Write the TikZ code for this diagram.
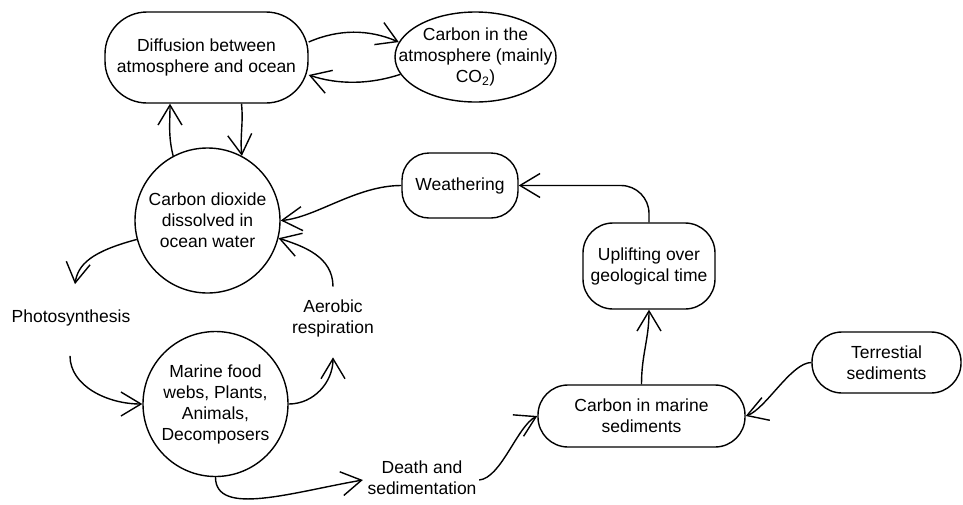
\documentclass[tikz,border=0pt]{standalone}
\usepackage{fontspec}
\setmainfont{Liberation Sans}
\usetikzlibrary{calc,arrows.meta,shapes.geometric}
\begin{document}
\begin{tikzpicture}[x=1pt,y=-1pt, line width=1.4pt,
  every node/.style={font=\fontsize{17.5}{21}\selectfont, align=center, inner sep=0pt},
  rbox/.style={draw, rectangle, rounded corners=#1},
  ring/.style={draw, circle, minimum size=145pt},
  arr/.style={-{Straight Barb[length=20pt,width=24pt]}}]
\useasboundingbox (0,0) rectangle (963,504);
\node[rbox=42pt, minimum width=203pt, minimum height=91pt] (diff) at (206.5,57.5) {Diffusion between\\atmosphere and ocean};
\node[draw, ellipse, minimum width=161pt, minimum height=90pt] (atm) at (475.5,57) {};
\node (atmtxt) at (atm.center) {Carbon in the\\atmosphere (mainly\\CO\textsubscript{2})};
\node[ring] (co2) at (207.5,220.5) {Carbon dioxide\\dissolved in\\ocean water};
\node[rbox=27pt, minimum width=116pt, minimum height=65pt] (weath) at (460,185.5) {Weathering};
\node[rbox=30pt, minimum width=132pt, minimum height=86pt] (upl) at (649,266) {Uplifting over\\geological time};
\node[ring] (food) at (215.5,404) {Marine food\\webs, Plants,\\Animals,\\Decomposers};
\node (photo) at (71,318) {Photosynthesis};
\node (aer) at (333,318) {Aerobic\\respiration};
\node (death) at (422,478) {Death and\\sedimentation};
\node[rbox=30pt, minimum width=207pt, minimum height=62pt] (msed) at (641.5,416) {Carbon in marine\\sediments};
\node[rbox=30pt, minimum width=149pt, minimum height=61pt] (terr) at (886.5,362.5) {Terrestial\\sediments};

\draw[arr] ($(diff.east)+(0,-15.5)$) .. controls +(30,-13) and +(-30,-13) .. (atm.169);
\draw[arr] (atm.193) .. controls +(-30,10) and +(30,10) .. ($(diff.east)+(0,17.5)$);
\draw[arr] (co2.118) .. controls +(-5,-20) and +(0,20) .. ($(diff.south)+(-36.5,0)$);
\draw[arr] ($(diff.south)+(35,0)$) .. controls +(2,20) and +(-2,-20) .. (co2.62);
\draw[arr] (weath.west) .. controls +(-45,0) and +(35,-3) .. (co2.0);
\draw[arr, rounded corners=28pt] (upl.north) |- (weath.east);
\draw[arr] (msed.north) .. controls +(0,-30) and +(0,30) .. (upl.south);
\draw[arr] (terr.west) .. controls +(-20,0) and +(20,-7) .. (msed.east);
\draw[arr] (co2.195) .. controls +(-45,12) and +(3,-20) .. ($(photo.north)+(4,-25)$);
\draw[arr] ($(photo.south)+(-1,29)$) .. controls +(0,30) and +(-35,0) .. (food.west);
\draw[arr] (food.east) .. controls +(25,0) and +(0,25) .. ($(aer.south)+(0,20)$);
\draw[arr] ($(aer.north)+(0,-12)$) .. controls +(0,-30) and +(25,8) .. (co2.346);
\draw[arr] (food.south) .. controls +(0,40) and +(-70,12) .. ($(death.west)+(-4,2)$);
\draw[arr] ($(death.east)+(2,2)$) .. controls +(22,-2) and +(-20,10) .. (msed.west);
\end{tikzpicture}
\end{document}
